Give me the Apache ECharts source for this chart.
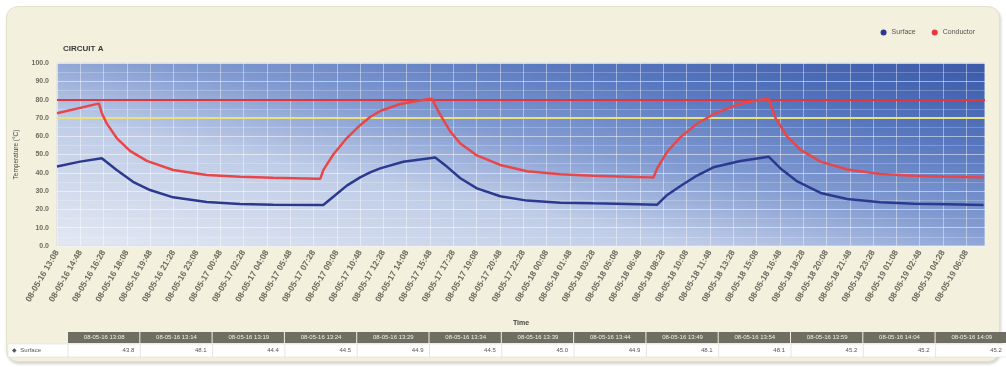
<!DOCTYPE html>
<html>
<head>
<meta charset="utf-8">
<script src="https://cdn.jsdelivr.net/npm/echarts@6/dist/echarts.min.js"></script>
<style>
  html, body { margin: 0; padding: 0; background: #ffffff; }
  #panel { position: absolute; left: 6px; top: 6px; width: 992px; height: 354px; background: #f3f1de; border: 1px solid #e4e1cb; border-radius: 12px; box-shadow: 1px 2px 3px rgba(0,0,0,0.18); }
  #chart { position: absolute; left: 0; top: 0; width: 1006px; height: 367px; }
</style>
</head>
<body>
<div id="panel"></div>
<div id="chart"></div>
<script>
// ---- Data ----
const tickLabels = [
  "08-05-16 13:08", "08-05-16 14:48", "08-05-16 16:28", "08-05-16 18:08", "08-05-16 19:48",
  "08-05-16 21:28", "08-05-16 23:08", "08-05-17 00:48", "08-05-17 02:28", "08-05-17 04:08",
  "08-05-17 05:48", "08-05-17 07:28", "08-05-17 09:08", "08-05-17 10:48", "08-05-17 12:28",
  "08-05-17 14:08", "08-05-17 15:48", "08-05-17 17:28", "08-05-17 19:08", "08-05-17 20:48",
  "08-05-17 22:28", "08-05-18 00:08", "08-05-18 01:48", "08-05-18 03:28", "08-05-18 05:08",
  "08-05-18 06:48", "08-05-18 08:28", "08-05-18 10:08", "08-05-18 11:48", "08-05-18 13:28",
  "08-05-18 15:08", "08-05-18 16:48", "08-05-18 18:28", "08-05-18 20:08", "08-05-18 21:48",
  "08-05-18 23:28", "08-05-19 01:08", "08-05-19 02:48", "08-05-19 04:28", "08-05-19 06:08"
];
// minutes elapsed since first tick
const conductorTime = [0, 163, 180, 192, 213, 256, 313, 385, 498, 642, 785, 927, 1115, 1129, 1142, 1185, 1243, 1300, 1343, 1386, 1472, 1587, 1608, 1644, 1687, 1730, 1801, 1901, 2016, 2159, 2300, 2445, 2545, 2558, 2574, 2617, 2674, 2745, 2815, 2888, 2960, 3024, 3052, 3082, 3132, 3189, 3275, 3389, 3532, 3674, 3818, 3974];
const conductorTemp = [72.5, 77.4, 77.8, 72.7, 67.0, 59.0, 52.0, 46.5, 41.5, 38.8, 37.9, 37.3, 36.8, 36.7, 41.5, 50.0, 59.0, 66.0, 70.5, 73.8, 77.6, 80.2, 80.4, 71.6, 62.5, 56.0, 49.5, 44.3, 40.8, 39.2, 38.4, 37.9, 37.5, 37.4, 42.4, 51.5, 59.5, 66.8, 72.0, 75.8, 78.6, 80.0, 80.3, 69.8, 59.7, 52.5, 46.1, 41.8, 39.4, 38.4, 37.8, 37.5];
const surfaceTime = [0, 99, 192, 256, 326, 399, 498, 642, 785, 927, 1142, 1185, 1243, 1300, 1343, 1386, 1485, 1622, 1672, 1730, 1801, 1901, 2016, 2159, 2300, 2445, 2574, 2617, 2674, 2745, 2815, 2931, 3052, 3103, 3175, 3275, 3389, 3532, 3674, 3818, 3974];
const surfaceTemp = [43.4, 46.1, 47.9, 41.5, 35.1, 30.6, 26.6, 24.0, 23.0, 22.6, 22.4, 26.9, 33.0, 37.5, 40.2, 42.4, 46.0, 48.3, 43.4, 37.0, 31.5, 27.2, 24.8, 23.7, 23.3, 23.0, 22.6, 27.9, 32.8, 38.5, 43.0, 46.4, 48.8, 42.4, 35.3, 29.0, 25.7, 23.9, 23.1, 22.8, 22.4];
const limitHigh = 80;
const limitLow = 70;
const tableTimes = ["08-05-16 13:08", "08-05-16 13:14", "08-05-16 13:19", "08-05-16 13:24", "08-05-16 13:29", "08-05-16 13:34", "08-05-16 13:39", "08-05-16 13:44", "08-05-16 13:49", "08-05-16 13:54", "08-05-16 13:59", "08-05-16 14:04", "08-05-16 14:09"];
const tableValues = [43.8, 48.1, 44.4, 44.5, 44.9, 44.5, 45.0, 44.9, 48.1, 48.1, 45.2, 45.2, 45.2];

// ---- Chart ----
const chart = echarts.init(document.getElementById('chart'), null, { renderer: 'canvas' });
const zip = (xs, ys) => xs.map((x, i) => [x, ys[i]]);

const FONT = 'Liberation Sans, Arial, sans-serif';
const tableLeft = 68, colW = 72.3, headY = 332, headH = 11, rowY = 344, rowH = 13;
const graphics = [];
graphics.push({ type: 'rect', shape: { x: 8, y: rowY, width: tableLeft - 8 + colW * tableTimes.length, height: rowH }, style: { fill: '#ffffff', stroke: '#dcdacb', lineWidth: 0.5 }, silent: true });
tableTimes.forEach((t, i) => {
  const x = tableLeft + i * colW;
  graphics.push({ type: 'rect', shape: { x: x, y: headY, width: colW - 1, height: headH }, style: { fill: '#6f6e63' }, silent: true });
  graphics.push({ type: 'text', x: x + colW / 2, y: headY + headH / 2, style: { text: t, fill: '#f2f2ea', font: '6px ' + FONT, align: 'center', verticalAlign: 'middle' }, silent: true });
  graphics.push({ type: 'line', shape: { x1: x, y1: rowY, x2: x, y2: rowY + rowH }, style: { stroke: '#d6d4c4', lineWidth: 0.6 }, silent: true });
  graphics.push({ type: 'text', x: x + colW - 6, y: rowY + rowH / 2, style: { text: tableValues[i].toFixed(1), fill: '#555555', font: '6px ' + FONT, align: 'right', verticalAlign: 'middle' }, silent: true });
});
graphics.push({ type: 'text', x: 12, y: rowY + rowH / 2, style: { text: '\u25C6  Surface', fill: '#555555', font: '6px ' + FONT, align: 'left', verticalAlign: 'middle' }, silent: true });

chart.setOption({
  backgroundColor: 'transparent',
  animation: false,
  textStyle: { fontFamily: FONT },
  title: {
    text: 'CIRCUIT A', left: 58, top: 40,
    textStyle: { fontSize: 8, fontWeight: 'bold', color: '#3a3a3a', fontFamily: FONT }
  },
  legend: {
    right: 26, top: 24, itemWidth: 6, itemHeight: 6, itemGap: 16, icon: 'circle',
    textStyle: { fontSize: 7, color: '#555555', fontFamily: FONT },
    data: ['Surface', 'Conductor']
  },
  grid: {
    left: 57, right: 21, top: 63, bottom: 121, show: true, borderWidth: 1, borderColor: '#d6dbe6',
    backgroundColor: new echarts.graphic.LinearGradient(0, 1, 0.075, -0.92, [
      { offset: 0, color: '#e3e8f2' },
      { offset: 0.35, color: '#bfcce7' },
      { offset: 0.55, color: '#829bd1' },
      { offset: 0.78, color: '#5575bd' },
      { offset: 1, color: '#3a5aa9' }
    ])
  },
  xAxis: {
    type: 'value', min: 0, max: 3980, interval: 100,
    name: 'Time', nameLocation: 'middle', nameGap: 74,
    nameTextStyle: { fontSize: 7, color: '#444444', fontWeight: 'bold' },
    axisLine: { show: false }, axisTick: { show: false },
    axisLabel: {
      rotate: 60, fontSize: 8.5, color: '#6b6b60', fontWeight: 'bold', margin: 5,
      showMaxLabel: false,
      formatter: v => tickLabels[Math.round(v / 100)] || ''
    },
    splitLine: { show: true, lineStyle: { color: 'rgba(255,255,255,0.42)', width: 1 } }
  },
  yAxis: {
    type: 'value', min: 0, max: 100, interval: 10,
    name: 'Temperature (\u00B0C)', nameLocation: 'middle', nameGap: 37, nameRotate: 90,
    nameTextStyle: { fontSize: 6.5, color: '#444444' },
    axisLine: { show: false }, axisTick: { show: false },
    axisLabel: { fontSize: 7, color: '#6b6b60', fontWeight: 'bold', margin: 8, formatter: v => v.toFixed(1) },
    splitLine: { show: true, lineStyle: { color: 'rgba(255,255,255,0.5)', width: 1 } },
    minorTick: { show: false, splitNumber: 2 },
    minorSplitLine: { show: true, lineStyle: { color: 'rgba(255,255,255,0.22)', width: 1 } }
  },
  series: [
    {
      name: 'Surface', type: 'line', data: zip(surfaceTime, surfaceTemp),
      showSymbol: false, smooth: false,
      itemStyle: { color: '#2b3a8f' },
      lineStyle: { color: '#2b3a8f', width: 2.5 }, z: 4
    },
    {
      name: 'Conductor', type: 'line', data: zip(conductorTime, conductorTemp),
      showSymbol: false, smooth: false,
      itemStyle: { color: '#e5393f' },
      lineStyle: { color: '#e8474a', width: 2.5 }, z: 5,
      markLine: {
        silent: true, symbol: 'none', label: { show: false },
        data: [
          { yAxis: limitHigh, lineStyle: { color: '#e2363c', width: 2.2, type: 'solid' } },
          { yAxis: limitLow, lineStyle: { color: '#e9e27a', width: 2.2, type: 'solid' } }
        ]
      }
    }
  ],
  graphic: graphics
});
</script>
</body>
</html>
